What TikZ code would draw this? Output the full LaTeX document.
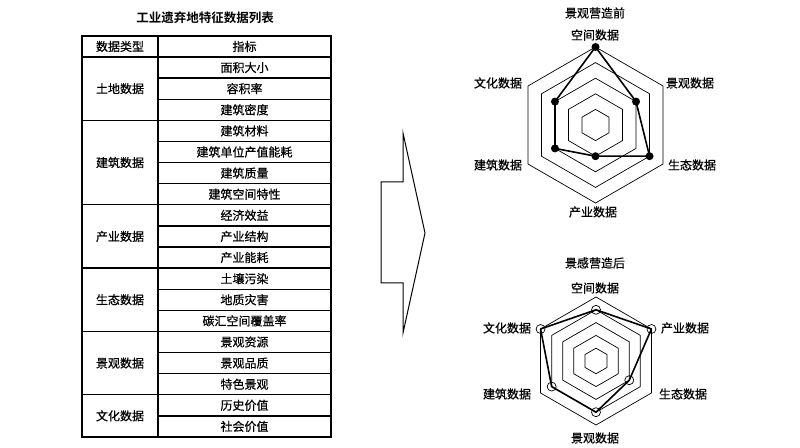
\documentclass[tikz,border=0pt]{standalone}
\usepackage{fontspec}
\newfontfamily\cjk[FakeBold=0.6]{Noto Sans CJK SC}
\newfontfamily\cjkb{Noto Sans CJK SC Bold}
\usepackage{tikz}
\usetikzlibrary{calc,positioning}

\tikzset{
  lbl/.style={font=\cjk\fontsize{12pt}{14pt}\selectfont, inner sep=0pt},
  ttl/.style={font=\cjkb\fontsize{12.5pt}{14pt}\selectfont, inner sep=0pt},
  gridline/.style={line width=1.4pt},
  ring/.style={line width=0.7pt},
  poly/.style={line width=1.6pt, line join=round},
  dotfull/.style={circle, fill, inner sep=0pt, minimum size=8pt},
  dotopen/.style={circle, draw, line width=0.7pt, inner sep=0pt, minimum size=9pt}
}

\begin{document}
\begin{tikzpicture}[x=1pt,y=1pt]
\useasboundingbox (0,0) rectangle (800,447);

% table
\node[ttl] (title) at (205,429) {工业遗弃地特征数据列表};
\draw[gridline] (82,10) rectangle (331,411);
\draw[gridline] (158,10) -- (158,411);
\draw[gridline] (82,390) -- (331,390);
\node[lbl] (head1) at (120,400.5) {数据类型};
\node[lbl] (head2) at (244.5,400.5) {指标};
\foreach \i in {1,...,17}
  \draw[gridline] (158,{390-\i*21.11}) -- (331,{390-\i*21.11});
\foreach \i in {3,7,10,13,16}
  \draw[gridline] (82,{390-\i*21.11}) -- (158,{390-\i*21.11});
\foreach \t [count=\i] in {面积大小,容积率,建筑密度,建筑材料,建筑单位产值能耗,建筑质量,建筑空间特性,经济效益,产业结构,产业能耗,土壤污染,地质灾害,碳汇空间覆盖率,景观资源,景观品质,特色景观,历史价值,社会价值}
  \node[lbl] (ind\i) at (244.5,{390-(\i-0.5)*21.11}) {\t};
\foreach \t/\m [count=\i] in {土地数据/1.5,建筑数据/5,产业数据/8.5,生态数据/11.5,景观数据/14.5,文化数据/17}
  \node[lbl] (type\i) at (120,{390-\m*21.11}) {\t};

% arrow
\draw[line width=1pt] (381,265) -- (403,265) -- (403,314) -- (425,214)
  -- (403,114) -- (403,164) -- (381,164) -- cycle;

% radar before
\coordinate (c1) at (595.5,322);
\foreach \k in {1,...,5}
  \draw[ring] ($(c1)+(90:\k*15.6)$) -- ($(c1)+(30:\k*15.6)$) -- ($(c1)+(-30:\k*15.6)$)
    -- ($(c1)+(-90:\k*15.6)$) -- ($(c1)+(-150:\k*15.6)$) -- ($(c1)+(150:\k*15.6)$) -- cycle;
\foreach \a/\v [count=\i] in {90/5,30/3,-30/4,-90/2,-150/3,150/3}
  \node[dotfull] (a\i) at ($(c1)+(\a:\v*15.6)$) {};
\draw[poly] (a1.center) -- (a2.center) -- (a3.center) -- (a4.center) -- (a5.center) -- (a6.center) -- cycle;
\node[lbl] (t1) at (595,434) {景观营造前};
\node[lbl] (a1l) at (595,412) {空间数据};
\node[lbl] (a2l) at (690,364) {景观数据};
\node[lbl] (a3l) at (692,282) {生态数据};
\node[lbl] (a4l) at (593,235) {产业数据};
\node[lbl] (a5l) at (498,282) {建筑数据};
\node[lbl] (a6l) at (498,364) {文化数据};

% radar after
\coordinate (c2) at (596,86);
\foreach \k in {1,...,5}
  \draw[ring] ($(c2)+(90:\k*12.8)$) -- ($(c2)+(30:\k*12.8)$) -- ($(c2)+(-30:\k*12.8)$)
    -- ($(c2)+(-90:\k*12.8)$) -- ($(c2)+(-150:\k*12.8)$) -- ($(c2)+(150:\k*12.8)$) -- cycle;
\foreach \a/\v [count=\i] in {90/4,30/5,-30/3,-90/4,-150/4,150/5}
  \node[dotopen] (b\i) at ($(c2)+(\a:\v*12.8)$) {};
\draw[poly] (b1.center) -- (b2.center) -- (b3.center) -- (b4.center) -- (b5.center) -- (b6.center) -- cycle;
\node[lbl] (t2) at (595,184) {景感营造后};
\node[lbl] (b1l) at (595,159) {空间数据};
\node[lbl] (b2l) at (685,119) {产业数据};
\node[lbl] (b3l) at (683,53) {生态数据};
\node[lbl] (b4l) at (595,9) {景观数据};
\node[lbl] (b5l) at (507,53) {建筑数据};
\node[lbl] (b6l) at (507,119) {文化数据};
\end{tikzpicture}
\end{document}
